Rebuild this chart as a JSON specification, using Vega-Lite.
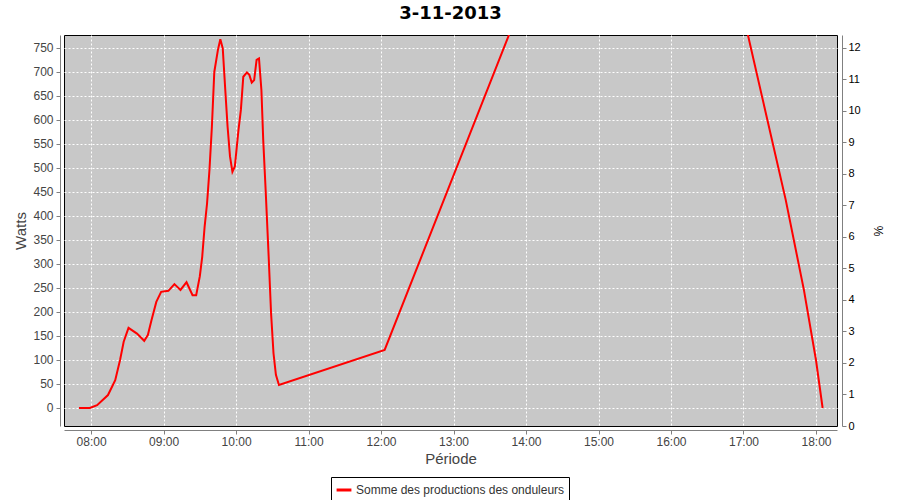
{
  "$schema": "https://vega.github.io/schema/vega-lite/v6.json",
  "autosize": "none",
  "width": 773,
  "height": 391,
  "padding": {"left": 64, "top": 35, "right": 63, "bottom": 74},
  "background": "white",
  "title": {"text": "3-11-2013", "font": "DejaVu Sans", "fontSize": 18, "fontWeight": "bold", "color": "black", "offset": 12},
  "config": {
    "view": {"stroke": "black", "strokeWidth": 1, "fill": "#c8c8c8"},
    "axis": {
      "labelFont": "Liberation Sans", "labelFontSize": 12, "labelColor": "#444444",
      "titleFont": "Liberation Sans", "titleFontSize": 15, "titleFontWeight": "normal", "titleColor": "#444444",
      "domainColor": "#808080", "tickColor": "#808080", "tickSize": 4,
      "gridColor": "white", "gridDash": [2, 2], "gridOpacity": 1, "gridWidth": 1
    },
    "legend": {"labelFont": "Liberation Sans", "labelFontSize": 12, "labelColor": "#333333", "labelLimit": 400}
  },
  "layer": [
    {
      "data": {"values": [
        {"t": "2013-11-03T07:50:00", "w": 0},
        {"t": "2013-11-03T07:59:00", "w": 0},
        {"t": "2013-11-03T08:05:00", "w": 6},
        {"t": "2013-11-03T08:14:00", "w": 27},
        {"t": "2013-11-03T08:20:00", "w": 58},
        {"t": "2013-11-03T08:24:00", "w": 100},
        {"t": "2013-11-03T08:27:00", "w": 138},
        {"t": "2013-11-03T08:31:00", "w": 167},
        {"t": "2013-11-03T08:38:00", "w": 155},
        {"t": "2013-11-03T08:44:00", "w": 140},
        {"t": "2013-11-03T08:47:00", "w": 152},
        {"t": "2013-11-03T08:50:00", "w": 183},
        {"t": "2013-11-03T08:54:00", "w": 221},
        {"t": "2013-11-03T08:58:00", "w": 242},
        {"t": "2013-11-03T09:04:00", "w": 244},
        {"t": "2013-11-03T09:09:00", "w": 258},
        {"t": "2013-11-03T09:14:00", "w": 246},
        {"t": "2013-11-03T09:19:00", "w": 262},
        {"t": "2013-11-03T09:24:00", "w": 235},
        {"t": "2013-11-03T09:27:00", "w": 235},
        {"t": "2013-11-03T09:30:00", "w": 274},
        {"t": "2013-11-03T09:32:00", "w": 315},
        {"t": "2013-11-03T09:34:00", "w": 378},
        {"t": "2013-11-03T09:36:00", "w": 426},
        {"t": "2013-11-03T09:38:00", "w": 496},
        {"t": "2013-11-03T09:40:00", "w": 586},
        {"t": "2013-11-03T09:42:00", "w": 700},
        {"t": "2013-11-03T09:45:00", "w": 746},
        {"t": "2013-11-03T09:47:00", "w": 768},
        {"t": "2013-11-03T09:49:00", "w": 749},
        {"t": "2013-11-03T09:51:00", "w": 666},
        {"t": "2013-11-03T09:53:00", "w": 586},
        {"t": "2013-11-03T09:55:00", "w": 524},
        {"t": "2013-11-03T09:57:00", "w": 492},
        {"t": "2013-11-03T09:59:00", "w": 503},
        {"t": "2013-11-03T10:02:00", "w": 579},
        {"t": "2013-11-03T10:04:00", "w": 621},
        {"t": "2013-11-03T10:06:00", "w": 690},
        {"t": "2013-11-03T10:09:00", "w": 699},
        {"t": "2013-11-03T10:11:00", "w": 694},
        {"t": "2013-11-03T10:13:00", "w": 678},
        {"t": "2013-11-03T10:15:00", "w": 683},
        {"t": "2013-11-03T10:17:00", "w": 725},
        {"t": "2013-11-03T10:19:00", "w": 728},
        {"t": "2013-11-03T10:21:00", "w": 662},
        {"t": "2013-11-03T10:22:30", "w": 558},
        {"t": "2013-11-03T10:24:30", "w": 454},
        {"t": "2013-11-03T10:27:00", "w": 315},
        {"t": "2013-11-03T10:29:00", "w": 197},
        {"t": "2013-11-03T10:31:00", "w": 114},
        {"t": "2013-11-03T10:33:00", "w": 69},
        {"t": "2013-11-03T10:35:30", "w": 48},
        {"t": "2013-11-03T12:03:00", "w": 121},
        {"t": "2013-11-03T15:51:00", "w": 1575},
        {"t": "2013-11-03T17:35:00", "w": 433},
        {"t": "2013-11-03T17:50:00", "w": 246},
        {"t": "2013-11-03T18:00:00", "w": 100},
        {"t": "2013-11-03T18:05:30", "w": 0}
      ]},
      "mark": {"type": "line", "clip": true, "strokeWidth": 2},
      "encoding": {
        "x": {
          "field": "t", "type": "temporal",
          "scale": {"domain": [
            {"year": 2013, "month": 11, "date": 3, "hours": 7, "minutes": 37, "seconds": 36},
            {"year": 2013, "month": 11, "date": 3, "hours": 18, "minutes": 17, "seconds": 24}
          ], "nice": false},
          "axis": {"title": "Période", "format": "%H:%M", "values": [
            {"year": 2013, "month": 11, "date": 3, "hours": 8},
            {"year": 2013, "month": 11, "date": 3, "hours": 9},
            {"year": 2013, "month": 11, "date": 3, "hours": 10},
            {"year": 2013, "month": 11, "date": 3, "hours": 11},
            {"year": 2013, "month": 11, "date": 3, "hours": 12},
            {"year": 2013, "month": 11, "date": 3, "hours": 13},
            {"year": 2013, "month": 11, "date": 3, "hours": 14},
            {"year": 2013, "month": 11, "date": 3, "hours": 15},
            {"year": 2013, "month": 11, "date": 3, "hours": 16},
            {"year": 2013, "month": 11, "date": 3, "hours": 17},
            {"year": 2013, "month": 11, "date": 3, "hours": 18}
          ], "offset": 4, "labelPadding": 2, "titlePadding": 4, "labelFlush": false, "grid": true}
        },
        "y": {
          "field": "w", "type": "quantitative",
          "scale": {"domain": [-37.5, 777], "nice": false, "zero": false},
          "axis": {"title": "Watts", "values": [0, 50, 100, 150, 200, 250, 300, 350, 400, 450, 500, 550, 600, 650, 700, 750], "offset": 4, "labelPadding": 3, "titlePadding": 4, "grid": true}
        },
        "color": {
          "datum": "Somme des productions des onduleurs",
          "scale": {"range": ["#ff0000"]},
          "legend": {"title": null, "orient": "none", "legendX": 267, "legendY": 442, "strokeColor": "black", "padding": 4, "fillColor": "white", "symbolType": "stroke", "symbolStrokeWidth": 3, "symbolSize": 220, "labelOffset": 3, "labelLimit": 400}
        }
      }
    },
    {
      "data": {"values": [{"p": 0}, {"p": 12}]},
      "mark": {"type": "point", "opacity": 0},
      "encoding": {
        "y": {
          "field": "p", "type": "quantitative",
          "scale": {"domain": [0, 12.41], "nice": false, "zero": false},
          "axis": {"orient": "right", "title": "%", "values": [0, 1, 2, 3, 4, 5, 6, 7, 8, 9, 10, 11, 12], "grid": false, "offset": 5, "labelPadding": 2, "labelColor": "black", "labelFontSize": 11, "titleFontSize": 12, "titleColor": "black", "titlePadding": 10}
        }
      }
    }
  ],
  "resolve": {"scale": {"y": "independent"}}
}
